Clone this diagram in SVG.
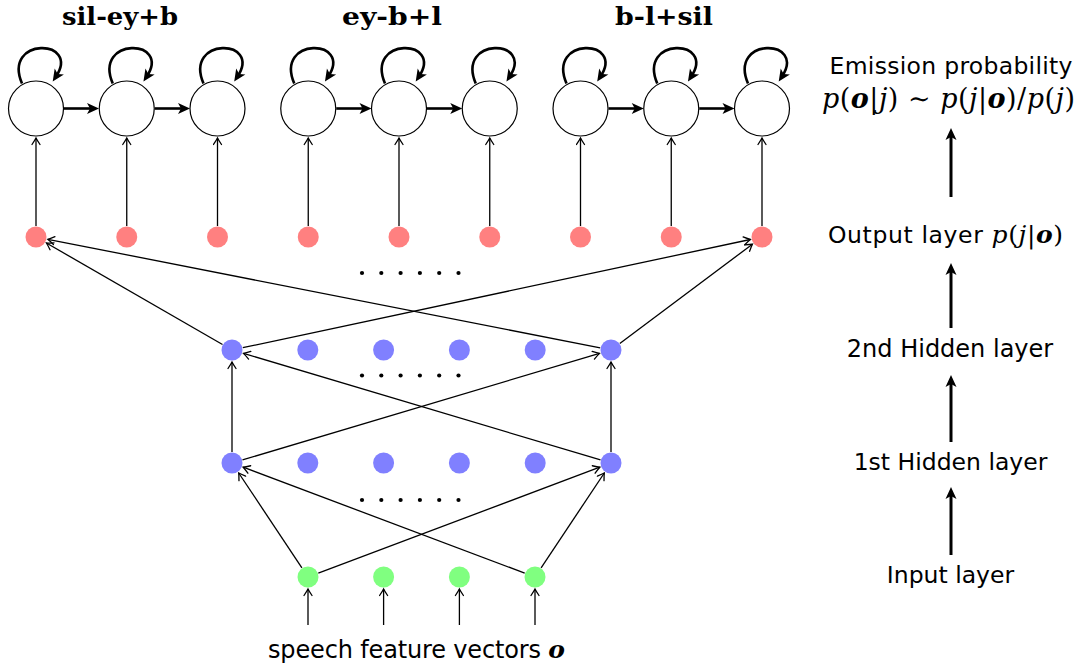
<svg xmlns="http://www.w3.org/2000/svg" width="1083" height="668" viewBox="0 0 1083 668">
  <style>
    .state { fill: #ffffff; stroke: #000000; stroke-width: 1.2; }
    .out { fill: #ff8080; }
    .hid { fill: #8080ff; }
    .inp { fill: #80ff80; }
    .dot { fill: #000000; }
    .thin { stroke: #000000; stroke-width: 1.3; fill: none; marker-end: url(#tip); }
    .bold { stroke: #000000; stroke-width: 2.6; fill: none; marker-end: url(#heavy); }
    .side { stroke: #000000; stroke-width: 3; fill: none; marker-end: url(#heavy); }
    .title { font-family: "DejaVu Serif", "Liberation Serif", serif; font-weight: bold; font-size: 24px; text-anchor: middle; fill: #000; }
    .lab { font-family: "DejaVu Sans", "Liberation Sans", sans-serif; font-size: 23.5px; fill: #000; text-anchor: middle; }
    .math { font-family: "DejaVu Serif", "Liberation Serif", serif; font-style: italic; }
    .up { font-style: normal; }
    .vec { font-weight: bold; font-style: italic; font-family: "DejaVu Serif", "Liberation Serif", serif; }
  </style>
  <defs>
    <marker id="tip" viewBox="-8 -5 10 10" refX="0" refY="0" markerWidth="10" markerHeight="10" markerUnits="userSpaceOnUse" orient="auto">
      <path d="M -6.5 -4 Q -2 -1 0 0 Q -2 1 -6.5 4" fill="none" stroke="#000" stroke-width="1.3" stroke-linecap="round"/>
    </marker>
    <marker id="heavy" viewBox="-8 -7 16 14" refX="0" refY="0" markerWidth="16" markerHeight="14" markerUnits="userSpaceOnUse" orient="auto">
      <path d="M 6 0 L -6 -5.5 L -3 0 L -6 5.5 Z" fill="#000"/>
    </marker>
  </defs>

  <!-- triphone titles -->
  <text class="title" x="120" y="25" textLength="116" lengthAdjust="spacingAndGlyphs">sil-ey+b</text>
  <text class="title" x="392" y="25" textLength="100" lengthAdjust="spacingAndGlyphs">ey-b+l</text>
  <text class="title" x="664" y="25" textLength="98" lengthAdjust="spacingAndGlyphs">b-l+sil</text>

  <!-- HMM states -->
  <g id="hmm-states">
    <g id="s1"><circle class="state" cx="36" cy="108.5" r="27.5"/></g>
    <g id="s2"><circle class="state" cx="126.75" cy="108.5" r="27.5"/></g>
    <g id="s3"><circle class="state" cx="217.5" cy="108.5" r="27.5"/></g>
    <g id="s4"><circle class="state" cx="308.25" cy="108.5" r="27.5"/></g>
    <g id="s5"><circle class="state" cx="399" cy="108.5" r="27.5"/></g>
    <g id="s6"><circle class="state" cx="489.75" cy="108.5" r="27.5"/></g>
    <g id="s7"><circle class="state" cx="580.5" cy="108.5" r="27.5"/></g>
    <g id="s8"><circle class="state" cx="671.25" cy="108.5" r="27.5"/></g>
    <g id="s9"><circle class="state" cx="762" cy="108.5" r="27.5"/></g>
  </g>

  <!-- output layer -->
  <g id="output-layer">
    <g id="o1"><circle class="out" cx="36" cy="237" r="10.5"/></g>
    <g id="o2"><circle class="out" cx="126.75" cy="237" r="10.5"/></g>
    <g id="o3"><circle class="out" cx="217.5" cy="237" r="10.5"/></g>
    <g id="o4"><circle class="out" cx="308.25" cy="237" r="10.5"/></g>
    <g id="o5"><circle class="out" cx="399" cy="237" r="10.5"/></g>
    <g id="o6"><circle class="out" cx="489.75" cy="237" r="10.5"/></g>
    <g id="o7"><circle class="out" cx="580.5" cy="237" r="10.5"/></g>
    <g id="o8"><circle class="out" cx="671.25" cy="237" r="10.5"/></g>
    <g id="o9"><circle class="out" cx="762" cy="237" r="10.5"/></g>
  </g>

  <!-- second hidden layer -->
  <g id="hidden-2">
    <g id="h2a"><circle class="hid" cx="232" cy="350" r="10.5"/></g>
    <g id="h2b"><circle class="hid" cx="307.8" cy="350" r="10.5"/></g>
    <g id="h2c"><circle class="hid" cx="383.6" cy="350" r="10.5"/></g>
    <g id="h2d"><circle class="hid" cx="459.4" cy="350" r="10.5"/></g>
    <g id="h2e"><circle class="hid" cx="535.2" cy="350" r="10.5"/></g>
    <g id="h2f"><circle class="hid" cx="611" cy="350" r="10.5"/></g>
  </g>

  <!-- first hidden layer -->
  <g id="hidden-1">
    <g id="h1a"><circle class="hid" cx="232" cy="463" r="10.5"/></g>
    <g id="h1b"><circle class="hid" cx="307.8" cy="463" r="10.5"/></g>
    <g id="h1c"><circle class="hid" cx="383.6" cy="463" r="10.5"/></g>
    <g id="h1d"><circle class="hid" cx="459.4" cy="463" r="10.5"/></g>
    <g id="h1e"><circle class="hid" cx="535.2" cy="463" r="10.5"/></g>
    <g id="h1f"><circle class="hid" cx="611" cy="463" r="10.5"/></g>
  </g>

  <!-- input layer -->
  <g id="input-layer">
    <g id="i1"><circle class="inp" cx="308" cy="577" r="10.5"/></g>
    <g id="i2"><circle class="inp" cx="383.6" cy="577" r="10.5"/></g>
    <g id="i3"><circle class="inp" cx="459.4" cy="577" r="10.5"/></g>
    <g id="i4"><circle class="inp" cx="535" cy="577" r="10.5"/></g>
  </g>

  <!-- ellipsis dots between layers -->
  <g id="ellipses">
    <circle class="dot" cx="362" cy="273" r="2.1"/><circle class="dot" cx="381.3" cy="273" r="2.1"/><circle class="dot" cx="400.6" cy="273" r="2.1"/><circle class="dot" cx="419.9" cy="273" r="2.1"/><circle class="dot" cx="439.2" cy="273" r="2.1"/><circle class="dot" cx="458.5" cy="273" r="2.1"/>
    <circle class="dot" cx="362" cy="375.5" r="2.1"/><circle class="dot" cx="381.3" cy="375.5" r="2.1"/><circle class="dot" cx="400.6" cy="375.5" r="2.1"/><circle class="dot" cx="419.9" cy="375.5" r="2.1"/><circle class="dot" cx="439.2" cy="375.5" r="2.1"/><circle class="dot" cx="458.5" cy="375.5" r="2.1"/>
    <circle class="dot" cx="362" cy="500" r="2.1"/><circle class="dot" cx="381.3" cy="500" r="2.1"/><circle class="dot" cx="400.6" cy="500" r="2.1"/><circle class="dot" cx="419.9" cy="500" r="2.1"/><circle class="dot" cx="439.2" cy="500" r="2.1"/><circle class="dot" cx="458.5" cy="500" r="2.1"/>
  </g>

  <g id="connectors">
    <!-- self loops -->
    <path class="bold" d="M 22 83.5 C 2 36.5 81 38.5 56 76.5"/>
    <path class="bold" d="M 112.75 83.5 C 92.75 36.5 171.75 38.5 146.75 76.5"/>
    <path class="bold" d="M 203.5 83.5 C 183.5 36.5 262.5 38.5 237.5 76.5"/>
    <path class="bold" d="M 294.25 83.5 C 274.25 36.5 353.25 38.5 328.25 76.5"/>
    <path class="bold" d="M 385 83.5 C 365 36.5 444 38.5 419 76.5"/>
    <path class="bold" d="M 475.75 83.5 C 455.75 36.5 534.75 38.5 509.75 76.5"/>
    <path class="bold" d="M 566.5 83.5 C 546.5 36.5 625.5 38.5 600.5 76.5"/>
    <path class="bold" d="M 657.25 83.5 C 637.25 36.5 716.25 38.5 691.25 76.5"/>
    <path class="bold" d="M 748 83.5 C 728 36.5 807 38.5 782 76.5"/>

    <!-- state transitions -->
    <line class="bold" x1="64" y1="108.5" x2="93" y2="108.5"/>
    <line class="bold" x1="154.75" y1="108.5" x2="184" y2="108.5"/>
    <line class="bold" x1="336.25" y1="108.5" x2="365.5" y2="108.5"/>
    <line class="bold" x1="427" y1="108.5" x2="456.25" y2="108.5"/>
    <line class="bold" x1="608.5" y1="108.5" x2="637.75" y2="108.5"/>
    <line class="bold" x1="699.25" y1="108.5" x2="728.5" y2="108.5"/>

    <!-- output units to states -->
    <line class="thin" x1="36" y1="226" x2="36" y2="138"/>
    <line class="thin" x1="126.75" y1="226" x2="126.75" y2="138"/>
    <line class="thin" x1="217.5" y1="226" x2="217.5" y2="138"/>
    <line class="thin" x1="308.25" y1="226" x2="308.25" y2="138"/>
    <line class="thin" x1="399" y1="226" x2="399" y2="138"/>
    <line class="thin" x1="489.75" y1="226" x2="489.75" y2="138"/>
    <line class="thin" x1="580.5" y1="226" x2="580.5" y2="138"/>
    <line class="thin" x1="671.25" y1="226" x2="671.25" y2="138"/>
    <line class="thin" x1="762" y1="226" x2="762" y2="138"/>

    <!-- hidden 2 to output -->
    <line class="thin" x1="222.5" y1="344.5" x2="46.4" y2="243"/>
    <line class="thin" x1="600.2" y1="347.9" x2="47.8" y2="239.3"/>
    <line class="thin" x1="242.8" y1="347.7" x2="750.3" y2="239.5"/>
    <line class="thin" x1="619.8" y1="343.4" x2="752.4" y2="244.2"/>

    <!-- hidden 1 to hidden 2 -->
    <line class="thin" x1="232" y1="452" x2="232" y2="362"/>
    <line class="thin" x1="600.5" y1="459.9" x2="243.5" y2="353.4"/>
    <line class="thin" x1="242.5" y1="459.9" x2="599.5" y2="353.4"/>
    <line class="thin" x1="611" y1="452" x2="611" y2="362"/>

    <!-- input to hidden 1 -->
    <line class="thin" x1="301.9" y1="567.8" x2="238.7" y2="473"/>
    <line class="thin" x1="524.7" y1="573.1" x2="243.2" y2="467.2"/>
    <line class="thin" x1="318.3" y1="573.1" x2="599.8" y2="467.2"/>
    <line class="thin" x1="541.1" y1="567.8" x2="604.3" y2="473"/>

    <!-- feature inputs -->
    <line class="thin" x1="308" y1="625" x2="308" y2="589"/>
    <line class="thin" x1="383.6" y1="625" x2="383.6" y2="589"/>
    <line class="thin" x1="459.4" y1="625" x2="459.4" y2="589"/>
    <line class="thin" x1="535" y1="625" x2="535" y2="589"/>

    <!-- layer legend arrows -->
    <line class="side" x1="951" y1="197" x2="951" y2="134"/>
    <line class="side" x1="951" y1="328" x2="951" y2="269"/>
    <line class="side" x1="951" y1="442" x2="951" y2="381"/>
    <line class="side" x1="951" y1="555" x2="951" y2="493"/>
  </g>

  <!-- labels -->
  <text class="lab" x="416.5" y="658" style="font-size:24px" textLength="297">speech feature vectors <tspan class="vec" font-size="25">o</tspan></text>
  <text class="lab" x="951" y="74" textLength="243">Emission probability</text>
  <text class="lab math" x="948.5" y="108" style="font-size:27px" textLength="253"><tspan>p</tspan><tspan class="up">(</tspan><tspan class="vec">o</tspan><tspan class="up">|</tspan><tspan>j</tspan><tspan class="up">) ∼ </tspan><tspan>p</tspan><tspan class="up">(</tspan><tspan>j</tspan><tspan class="up">|</tspan><tspan class="vec">o</tspan><tspan class="up">)/</tspan><tspan>p</tspan><tspan class="up">(</tspan><tspan>j</tspan><tspan class="up">)</tspan></text>
  <text class="lab" x="945.5" y="243" textLength="235">Output layer <tspan class="math" font-size="25">p</tspan><tspan class="math up" font-size="25">(</tspan><tspan class="math" font-size="25">j</tspan><tspan class="math up" font-size="25">|</tspan><tspan class="vec" font-size="25">o</tspan><tspan class="math up" font-size="25">)</tspan></text>
  <text class="lab" x="950" y="357" style="font-size:24px">2nd Hidden layer</text>
  <text class="lab" x="950.5" y="470">1st Hidden layer</text>
  <text class="lab" x="950.5" y="583">Input layer</text>
</svg>
